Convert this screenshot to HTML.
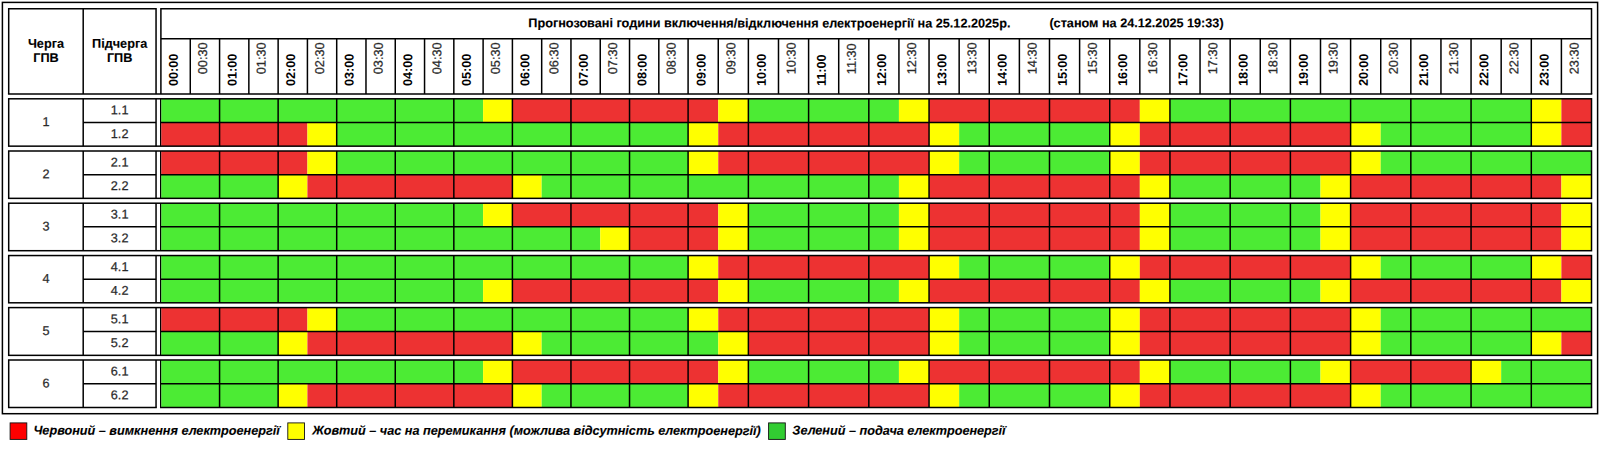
<!DOCTYPE html>
<html lang="uk"><head><meta charset="utf-8"><title>Графік погодинних відключень</title>
<style>html,body{margin:0;padding:0;background:#fff}svg{display:block}text{font-family:"Liberation Sans",sans-serif;font-size:12.7px;fill:#000}.b{font-weight:bold;stroke:#000;stroke-width:.12}.i{font-size:12.67px;font-weight:bold;font-style:italic;stroke:#000;stroke-width:.12}.g{fill:#2a2a2a;stroke:#2a2a2a;stroke-width:.25}.h{fill:#2a2a2a;stroke:#2a2a2a;stroke-width:.25;font-size:12.7px}.t{font-weight:bold;font-size:12.7px}.l{stroke:#000;stroke-width:1.5;fill:none}</style></head><body>
<svg width="1600" height="451" viewBox="0 0 1600 451">
<rect x="0" y="0" width="1600" height="451" fill="#fff"/>
<rect class="l" x="2.4" y="2.4" width="1595.2" height="411.3"/>
<polyline class="l" points="8.7,93.9 8.7,8.7 156.05,8.7 156.05,93.9"/>
<line class="l" x1="83.2" y1="8.7" x2="83.2" y2="93.9"/>
<text class="b" text-anchor="middle" transform="translate(45.95 47.85) rotate(0.04)">Черга</text>
<text class="b" text-anchor="middle" transform="translate(45.95 62.05) rotate(0.04)">ГПВ</text>
<text class="b" text-anchor="middle" transform="translate(119.62 47.85) rotate(0.04)">Підчерга</text>
<text class="b" text-anchor="middle" transform="translate(119.62 62.05) rotate(0.04)">ГПВ</text>
<polyline class="l" points="160.9,93.9 160.9,8.7 1591.51,8.7 1591.51,93.9"/>
<line class="l" x1="160.9" y1="38.7" x2="1591.51" y2="38.7"/>
<line class="l" x1="7.95" y1="93.9" x2="1592.26" y2="93.9"/>
<text class="b" transform="translate(528.30 27.25) rotate(0.04)" style="font-size:12.68px">Прогнозовані години включення/відключення електроенергії на 25.12.2025р.</text>
<text class="b" transform="translate(1049.40 27.25) rotate(0.04)" style="font-size:12.66px">(станом на 24.12.2025 19:33)</text>
<line class="l" x1="190.28" y1="38.7" x2="190.28" y2="93.9"/>
<line class="l" x1="219.57" y1="38.7" x2="219.57" y2="93.9"/>
<line class="l" x1="248.85" y1="38.7" x2="248.85" y2="93.9"/>
<line class="l" x1="278.13" y1="38.7" x2="278.13" y2="93.9"/>
<line class="l" x1="307.42" y1="38.7" x2="307.42" y2="93.9"/>
<line class="l" x1="336.70" y1="38.7" x2="336.70" y2="93.9"/>
<line class="l" x1="365.98" y1="38.7" x2="365.98" y2="93.9"/>
<line class="l" x1="395.26" y1="38.7" x2="395.26" y2="93.9"/>
<line class="l" x1="424.55" y1="38.7" x2="424.55" y2="93.9"/>
<line class="l" x1="453.83" y1="38.7" x2="453.83" y2="93.9"/>
<line class="l" x1="483.11" y1="38.7" x2="483.11" y2="93.9"/>
<line class="l" x1="512.40" y1="38.7" x2="512.40" y2="93.9"/>
<line class="l" x1="541.68" y1="38.7" x2="541.68" y2="93.9"/>
<line class="l" x1="570.96" y1="38.7" x2="570.96" y2="93.9"/>
<line class="l" x1="600.25" y1="38.7" x2="600.25" y2="93.9"/>
<line class="l" x1="629.53" y1="38.7" x2="629.53" y2="93.9"/>
<line class="l" x1="658.81" y1="38.7" x2="658.81" y2="93.9"/>
<line class="l" x1="688.09" y1="38.7" x2="688.09" y2="93.9"/>
<line class="l" x1="718.26" y1="38.7" x2="718.26" y2="93.9"/>
<line class="l" x1="748.37" y1="38.7" x2="748.37" y2="93.9"/>
<line class="l" x1="778.49" y1="38.7" x2="778.49" y2="93.9"/>
<line class="l" x1="808.60" y1="38.7" x2="808.60" y2="93.9"/>
<line class="l" x1="838.71" y1="38.7" x2="838.71" y2="93.9"/>
<line class="l" x1="868.82" y1="38.7" x2="868.82" y2="93.9"/>
<line class="l" x1="898.93" y1="38.7" x2="898.93" y2="93.9"/>
<line class="l" x1="929.05" y1="38.7" x2="929.05" y2="93.9"/>
<line class="l" x1="959.16" y1="38.7" x2="959.16" y2="93.9"/>
<line class="l" x1="989.27" y1="38.7" x2="989.27" y2="93.9"/>
<line class="l" x1="1019.38" y1="38.7" x2="1019.38" y2="93.9"/>
<line class="l" x1="1049.49" y1="38.7" x2="1049.49" y2="93.9"/>
<line class="l" x1="1079.61" y1="38.7" x2="1079.61" y2="93.9"/>
<line class="l" x1="1109.72" y1="38.7" x2="1109.72" y2="93.9"/>
<line class="l" x1="1139.83" y1="38.7" x2="1139.83" y2="93.9"/>
<line class="l" x1="1169.94" y1="38.7" x2="1169.94" y2="93.9"/>
<line class="l" x1="1200.05" y1="38.7" x2="1200.05" y2="93.9"/>
<line class="l" x1="1230.17" y1="38.7" x2="1230.17" y2="93.9"/>
<line class="l" x1="1260.28" y1="38.7" x2="1260.28" y2="93.9"/>
<line class="l" x1="1290.39" y1="38.7" x2="1290.39" y2="93.9"/>
<line class="l" x1="1320.50" y1="38.7" x2="1320.50" y2="93.9"/>
<line class="l" x1="1350.61" y1="38.7" x2="1350.61" y2="93.9"/>
<line class="l" x1="1380.73" y1="38.7" x2="1380.73" y2="93.9"/>
<line class="l" x1="1410.84" y1="38.7" x2="1410.84" y2="93.9"/>
<line class="l" x1="1440.95" y1="38.7" x2="1440.95" y2="93.9"/>
<line class="l" x1="1471.06" y1="38.7" x2="1471.06" y2="93.9"/>
<line class="l" x1="1501.17" y1="38.7" x2="1501.17" y2="93.9"/>
<line class="l" x1="1531.29" y1="38.7" x2="1531.29" y2="93.9"/>
<line class="l" x1="1561.40" y1="38.7" x2="1561.40" y2="93.9"/>
<text class="t" transform="translate(177.84 86.10) rotate(-89.96)">00:00</text>
<text class="h" transform="translate(206.92 74.20) rotate(-89.96)">00:30</text>
<text class="t" transform="translate(236.41 86.10) rotate(-89.96)">01:00</text>
<text class="h" transform="translate(265.49 74.20) rotate(-89.96)">01:30</text>
<text class="t" transform="translate(294.97 86.10) rotate(-89.96)">02:00</text>
<text class="h" transform="translate(324.06 74.20) rotate(-89.96)">02:30</text>
<text class="t" transform="translate(353.54 86.10) rotate(-89.96)">03:00</text>
<text class="h" transform="translate(382.62 74.20) rotate(-89.96)">03:30</text>
<text class="t" transform="translate(412.11 86.10) rotate(-89.96)">04:00</text>
<text class="h" transform="translate(441.19 74.20) rotate(-89.96)">04:30</text>
<text class="t" transform="translate(470.67 86.10) rotate(-89.96)">05:00</text>
<text class="h" transform="translate(499.75 74.20) rotate(-89.96)">05:30</text>
<text class="t" transform="translate(529.24 86.10) rotate(-89.96)">06:00</text>
<text class="h" transform="translate(558.32 74.20) rotate(-89.96)">06:30</text>
<text class="t" transform="translate(587.80 86.10) rotate(-89.96)">07:00</text>
<text class="h" transform="translate(616.89 74.20) rotate(-89.96)">07:30</text>
<text class="t" transform="translate(646.37 86.10) rotate(-89.96)">08:00</text>
<text class="h" transform="translate(675.45 74.20) rotate(-89.96)">08:30</text>
<text class="t" transform="translate(705.38 86.10) rotate(-89.96)">09:00</text>
<text class="h" transform="translate(735.32 74.20) rotate(-89.96)">09:30</text>
<text class="t" transform="translate(765.63 86.10) rotate(-89.96)">10:00</text>
<text class="h" transform="translate(795.54 74.20) rotate(-89.96)">10:30</text>
<text class="t" transform="translate(825.85 86.10) rotate(-89.96)">11:00</text>
<text class="h" transform="translate(855.77 74.20) rotate(-89.96)">11:30</text>
<text class="t" transform="translate(886.08 86.10) rotate(-89.96)">12:00</text>
<text class="h" transform="translate(915.99 74.20) rotate(-89.96)">12:30</text>
<text class="t" transform="translate(946.30 86.10) rotate(-89.96)">13:00</text>
<text class="h" transform="translate(976.21 74.20) rotate(-89.96)">13:30</text>
<text class="t" transform="translate(1006.53 86.10) rotate(-89.96)">14:00</text>
<text class="h" transform="translate(1036.44 74.20) rotate(-89.96)">14:30</text>
<text class="t" transform="translate(1066.75 86.10) rotate(-89.96)">15:00</text>
<text class="h" transform="translate(1096.66 74.20) rotate(-89.96)">15:30</text>
<text class="t" transform="translate(1126.97 86.10) rotate(-89.96)">16:00</text>
<text class="h" transform="translate(1156.89 74.20) rotate(-89.96)">16:30</text>
<text class="t" transform="translate(1187.20 86.10) rotate(-89.96)">17:00</text>
<text class="h" transform="translate(1217.11 74.20) rotate(-89.96)">17:30</text>
<text class="t" transform="translate(1247.42 86.10) rotate(-89.96)">18:00</text>
<text class="h" transform="translate(1277.33 74.20) rotate(-89.96)">18:30</text>
<text class="t" transform="translate(1307.65 86.10) rotate(-89.96)">19:00</text>
<text class="h" transform="translate(1337.56 74.20) rotate(-89.96)">19:30</text>
<text class="t" transform="translate(1367.87 86.10) rotate(-89.96)">20:00</text>
<text class="h" transform="translate(1397.78 74.20) rotate(-89.96)">20:30</text>
<text class="t" transform="translate(1428.09 86.10) rotate(-89.96)">21:00</text>
<text class="h" transform="translate(1458.01 74.20) rotate(-89.96)">21:30</text>
<text class="t" transform="translate(1488.32 86.10) rotate(-89.96)">22:00</text>
<text class="h" transform="translate(1518.23 74.20) rotate(-89.96)">22:30</text>
<text class="t" transform="translate(1548.54 86.10) rotate(-89.96)">23:00</text>
<text class="h" transform="translate(1578.45 74.20) rotate(-89.96)">23:30</text>
<line class="l" x1="160.75" y1="98.80" x2="160.75" y2="146.15"/>
<rect x="161.35" y="98.80" width="321.76" height="23.65" fill="#4ceb34"/>
<rect x="483.11" y="98.80" width="29.28" height="23.65" fill="#ffff00"/>
<rect x="512.40" y="98.80" width="205.87" height="23.65" fill="#ed3232"/>
<rect x="718.26" y="98.80" width="30.11" height="23.65" fill="#ffff00"/>
<rect x="748.37" y="98.80" width="150.56" height="23.65" fill="#4ceb34"/>
<rect x="898.93" y="98.80" width="30.11" height="23.65" fill="#ffff00"/>
<rect x="929.05" y="98.80" width="210.78" height="23.65" fill="#ed3232"/>
<rect x="1139.83" y="98.80" width="30.11" height="23.65" fill="#ffff00"/>
<rect x="1169.94" y="98.80" width="361.34" height="23.65" fill="#4ceb34"/>
<rect x="1531.29" y="98.80" width="30.11" height="23.65" fill="#ffff00"/>
<rect x="1561.40" y="98.80" width="30.11" height="23.65" fill="#ed3232"/>
<rect x="161.35" y="122.45" width="146.07" height="23.70" fill="#ed3232"/>
<rect x="307.42" y="122.45" width="29.28" height="23.70" fill="#ffff00"/>
<rect x="336.70" y="122.45" width="351.40" height="23.70" fill="#4ceb34"/>
<rect x="688.09" y="122.45" width="30.17" height="23.70" fill="#ffff00"/>
<rect x="718.26" y="122.45" width="210.78" height="23.70" fill="#ed3232"/>
<rect x="929.05" y="122.45" width="30.11" height="23.70" fill="#ffff00"/>
<rect x="959.16" y="122.45" width="150.56" height="23.70" fill="#4ceb34"/>
<rect x="1109.72" y="122.45" width="30.11" height="23.70" fill="#ffff00"/>
<rect x="1139.83" y="122.45" width="210.78" height="23.70" fill="#ed3232"/>
<rect x="1350.61" y="122.45" width="30.11" height="23.70" fill="#ffff00"/>
<rect x="1380.73" y="122.45" width="150.56" height="23.70" fill="#4ceb34"/>
<rect x="1531.29" y="122.45" width="30.11" height="23.70" fill="#ffff00"/>
<rect x="1561.40" y="122.45" width="30.11" height="23.70" fill="#ed3232"/>
<rect class="l" x="8.7" y="98.80" width="1582.81" height="47.35"/>
<line class="l" x1="156.05" y1="98.80" x2="156.05" y2="146.15"/>
<line class="l" x1="83.2" y1="98.80" x2="83.2" y2="146.15"/>
<line class="l" x1="83.2" y1="122.45" x2="156.05" y2="122.45"/>
<text class="g" text-anchor="middle" transform="translate(45.95 126.07) rotate(0.04)">1</text>
<text class="g" text-anchor="middle" transform="translate(119.62 114.22) rotate(0.04)">1.1</text>
<text class="g" text-anchor="middle" transform="translate(119.62 137.90) rotate(0.04)">1.2</text>
<line class="l" x1="160.75" y1="122.45" x2="1591.51" y2="122.45"/>
<line class="l" x1="219.57" y1="98.80" x2="219.57" y2="146.15"/>
<line class="l" x1="278.13" y1="98.80" x2="278.13" y2="146.15"/>
<line class="l" x1="336.70" y1="98.80" x2="336.70" y2="146.15"/>
<line class="l" x1="395.26" y1="98.80" x2="395.26" y2="146.15"/>
<line class="l" x1="453.83" y1="98.80" x2="453.83" y2="146.15"/>
<line class="l" x1="512.40" y1="98.80" x2="512.40" y2="146.15"/>
<line class="l" x1="570.96" y1="98.80" x2="570.96" y2="146.15"/>
<line class="l" x1="629.53" y1="98.80" x2="629.53" y2="146.15"/>
<line class="l" x1="688.09" y1="98.80" x2="688.09" y2="146.15"/>
<line class="l" x1="748.37" y1="98.80" x2="748.37" y2="146.15"/>
<line class="l" x1="808.60" y1="98.80" x2="808.60" y2="146.15"/>
<line class="l" x1="868.82" y1="98.80" x2="868.82" y2="146.15"/>
<line class="l" x1="929.05" y1="98.80" x2="929.05" y2="146.15"/>
<line class="l" x1="989.27" y1="98.80" x2="989.27" y2="146.15"/>
<line class="l" x1="1049.49" y1="98.80" x2="1049.49" y2="146.15"/>
<line class="l" x1="1109.72" y1="98.80" x2="1109.72" y2="146.15"/>
<line class="l" x1="1169.94" y1="98.80" x2="1169.94" y2="146.15"/>
<line class="l" x1="1230.17" y1="98.80" x2="1230.17" y2="146.15"/>
<line class="l" x1="1290.39" y1="98.80" x2="1290.39" y2="146.15"/>
<line class="l" x1="1350.61" y1="98.80" x2="1350.61" y2="146.15"/>
<line class="l" x1="1410.84" y1="98.80" x2="1410.84" y2="146.15"/>
<line class="l" x1="1471.06" y1="98.80" x2="1471.06" y2="146.15"/>
<line class="l" x1="1531.29" y1="98.80" x2="1531.29" y2="146.15"/>
<line class="l" x1="160.75" y1="151.00" x2="160.75" y2="198.35"/>
<rect x="161.35" y="151.00" width="146.07" height="23.65" fill="#ed3232"/>
<rect x="307.42" y="151.00" width="29.28" height="23.65" fill="#ffff00"/>
<rect x="336.70" y="151.00" width="351.40" height="23.65" fill="#4ceb34"/>
<rect x="688.09" y="151.00" width="30.17" height="23.65" fill="#ffff00"/>
<rect x="718.26" y="151.00" width="210.78" height="23.65" fill="#ed3232"/>
<rect x="929.05" y="151.00" width="30.11" height="23.65" fill="#ffff00"/>
<rect x="959.16" y="151.00" width="150.56" height="23.65" fill="#4ceb34"/>
<rect x="1109.72" y="151.00" width="30.11" height="23.65" fill="#ffff00"/>
<rect x="1139.83" y="151.00" width="210.78" height="23.65" fill="#ed3232"/>
<rect x="1350.61" y="151.00" width="30.11" height="23.65" fill="#ffff00"/>
<rect x="1380.73" y="151.00" width="210.78" height="23.65" fill="#4ceb34"/>
<rect x="161.35" y="174.65" width="116.78" height="23.70" fill="#4ceb34"/>
<rect x="278.13" y="174.65" width="29.28" height="23.70" fill="#ffff00"/>
<rect x="307.42" y="174.65" width="204.98" height="23.70" fill="#ed3232"/>
<rect x="512.40" y="174.65" width="29.28" height="23.70" fill="#ffff00"/>
<rect x="541.68" y="174.65" width="357.25" height="23.70" fill="#4ceb34"/>
<rect x="898.93" y="174.65" width="30.11" height="23.70" fill="#ffff00"/>
<rect x="929.05" y="174.65" width="210.78" height="23.70" fill="#ed3232"/>
<rect x="1139.83" y="174.65" width="30.11" height="23.70" fill="#ffff00"/>
<rect x="1169.94" y="174.65" width="150.56" height="23.70" fill="#4ceb34"/>
<rect x="1320.50" y="174.65" width="30.11" height="23.70" fill="#ffff00"/>
<rect x="1350.61" y="174.65" width="210.78" height="23.70" fill="#ed3232"/>
<rect x="1561.40" y="174.65" width="30.11" height="23.70" fill="#ffff00"/>
<rect class="l" x="8.7" y="151.00" width="1582.81" height="47.35"/>
<line class="l" x1="156.05" y1="151.00" x2="156.05" y2="198.35"/>
<line class="l" x1="83.2" y1="151.00" x2="83.2" y2="198.35"/>
<line class="l" x1="83.2" y1="174.65" x2="156.05" y2="174.65"/>
<text class="g" text-anchor="middle" transform="translate(45.95 178.28) rotate(0.04)">2</text>
<text class="g" text-anchor="middle" transform="translate(119.62 166.42) rotate(0.04)">2.1</text>
<text class="g" text-anchor="middle" transform="translate(119.62 190.10) rotate(0.04)">2.2</text>
<line class="l" x1="160.75" y1="174.65" x2="1591.51" y2="174.65"/>
<line class="l" x1="219.57" y1="151.00" x2="219.57" y2="198.35"/>
<line class="l" x1="278.13" y1="151.00" x2="278.13" y2="198.35"/>
<line class="l" x1="336.70" y1="151.00" x2="336.70" y2="198.35"/>
<line class="l" x1="395.26" y1="151.00" x2="395.26" y2="198.35"/>
<line class="l" x1="453.83" y1="151.00" x2="453.83" y2="198.35"/>
<line class="l" x1="512.40" y1="151.00" x2="512.40" y2="198.35"/>
<line class="l" x1="570.96" y1="151.00" x2="570.96" y2="198.35"/>
<line class="l" x1="629.53" y1="151.00" x2="629.53" y2="198.35"/>
<line class="l" x1="688.09" y1="151.00" x2="688.09" y2="198.35"/>
<line class="l" x1="748.37" y1="151.00" x2="748.37" y2="198.35"/>
<line class="l" x1="808.60" y1="151.00" x2="808.60" y2="198.35"/>
<line class="l" x1="868.82" y1="151.00" x2="868.82" y2="198.35"/>
<line class="l" x1="929.05" y1="151.00" x2="929.05" y2="198.35"/>
<line class="l" x1="989.27" y1="151.00" x2="989.27" y2="198.35"/>
<line class="l" x1="1049.49" y1="151.00" x2="1049.49" y2="198.35"/>
<line class="l" x1="1109.72" y1="151.00" x2="1109.72" y2="198.35"/>
<line class="l" x1="1169.94" y1="151.00" x2="1169.94" y2="198.35"/>
<line class="l" x1="1230.17" y1="151.00" x2="1230.17" y2="198.35"/>
<line class="l" x1="1290.39" y1="151.00" x2="1290.39" y2="198.35"/>
<line class="l" x1="1350.61" y1="151.00" x2="1350.61" y2="198.35"/>
<line class="l" x1="1410.84" y1="151.00" x2="1410.84" y2="198.35"/>
<line class="l" x1="1471.06" y1="151.00" x2="1471.06" y2="198.35"/>
<line class="l" x1="1531.29" y1="151.00" x2="1531.29" y2="198.35"/>
<line class="l" x1="160.75" y1="203.20" x2="160.75" y2="250.70"/>
<rect x="161.35" y="203.20" width="321.76" height="23.65" fill="#4ceb34"/>
<rect x="483.11" y="203.20" width="29.28" height="23.65" fill="#ffff00"/>
<rect x="512.40" y="203.20" width="205.87" height="23.65" fill="#ed3232"/>
<rect x="718.26" y="203.20" width="30.11" height="23.65" fill="#ffff00"/>
<rect x="748.37" y="203.20" width="150.56" height="23.65" fill="#4ceb34"/>
<rect x="898.93" y="203.20" width="30.11" height="23.65" fill="#ffff00"/>
<rect x="929.05" y="203.20" width="210.78" height="23.65" fill="#ed3232"/>
<rect x="1139.83" y="203.20" width="30.11" height="23.65" fill="#ffff00"/>
<rect x="1169.94" y="203.20" width="150.56" height="23.65" fill="#4ceb34"/>
<rect x="1320.50" y="203.20" width="30.11" height="23.65" fill="#ffff00"/>
<rect x="1350.61" y="203.20" width="210.78" height="23.65" fill="#ed3232"/>
<rect x="1561.40" y="203.20" width="30.11" height="23.65" fill="#ffff00"/>
<rect x="161.35" y="226.85" width="438.89" height="23.85" fill="#4ceb34"/>
<rect x="600.25" y="226.85" width="29.28" height="23.85" fill="#ffff00"/>
<rect x="629.53" y="226.85" width="88.73" height="23.85" fill="#ed3232"/>
<rect x="718.26" y="226.85" width="30.11" height="23.85" fill="#ffff00"/>
<rect x="748.37" y="226.85" width="150.56" height="23.85" fill="#4ceb34"/>
<rect x="898.93" y="226.85" width="30.11" height="23.85" fill="#ffff00"/>
<rect x="929.05" y="226.85" width="210.78" height="23.85" fill="#ed3232"/>
<rect x="1139.83" y="226.85" width="30.11" height="23.85" fill="#ffff00"/>
<rect x="1169.94" y="226.85" width="150.56" height="23.85" fill="#4ceb34"/>
<rect x="1320.50" y="226.85" width="30.11" height="23.85" fill="#ffff00"/>
<rect x="1350.61" y="226.85" width="210.78" height="23.85" fill="#ed3232"/>
<rect x="1561.40" y="226.85" width="30.11" height="23.85" fill="#ffff00"/>
<rect class="l" x="8.7" y="203.20" width="1582.81" height="47.50"/>
<line class="l" x1="156.05" y1="203.20" x2="156.05" y2="250.70"/>
<line class="l" x1="83.2" y1="203.20" x2="83.2" y2="250.70"/>
<line class="l" x1="83.2" y1="226.85" x2="156.05" y2="226.85"/>
<text class="g" text-anchor="middle" transform="translate(45.95 230.55) rotate(0.04)">3</text>
<text class="g" text-anchor="middle" transform="translate(119.62 218.62) rotate(0.04)">3.1</text>
<text class="g" text-anchor="middle" transform="translate(119.62 242.37) rotate(0.04)">3.2</text>
<line class="l" x1="160.75" y1="226.85" x2="1591.51" y2="226.85"/>
<line class="l" x1="219.57" y1="203.20" x2="219.57" y2="250.70"/>
<line class="l" x1="278.13" y1="203.20" x2="278.13" y2="250.70"/>
<line class="l" x1="336.70" y1="203.20" x2="336.70" y2="250.70"/>
<line class="l" x1="395.26" y1="203.20" x2="395.26" y2="250.70"/>
<line class="l" x1="453.83" y1="203.20" x2="453.83" y2="250.70"/>
<line class="l" x1="512.40" y1="203.20" x2="512.40" y2="250.70"/>
<line class="l" x1="570.96" y1="203.20" x2="570.96" y2="250.70"/>
<line class="l" x1="629.53" y1="203.20" x2="629.53" y2="250.70"/>
<line class="l" x1="688.09" y1="203.20" x2="688.09" y2="250.70"/>
<line class="l" x1="748.37" y1="203.20" x2="748.37" y2="250.70"/>
<line class="l" x1="808.60" y1="203.20" x2="808.60" y2="250.70"/>
<line class="l" x1="868.82" y1="203.20" x2="868.82" y2="250.70"/>
<line class="l" x1="929.05" y1="203.20" x2="929.05" y2="250.70"/>
<line class="l" x1="989.27" y1="203.20" x2="989.27" y2="250.70"/>
<line class="l" x1="1049.49" y1="203.20" x2="1049.49" y2="250.70"/>
<line class="l" x1="1109.72" y1="203.20" x2="1109.72" y2="250.70"/>
<line class="l" x1="1169.94" y1="203.20" x2="1169.94" y2="250.70"/>
<line class="l" x1="1230.17" y1="203.20" x2="1230.17" y2="250.70"/>
<line class="l" x1="1290.39" y1="203.20" x2="1290.39" y2="250.70"/>
<line class="l" x1="1350.61" y1="203.20" x2="1350.61" y2="250.70"/>
<line class="l" x1="1410.84" y1="203.20" x2="1410.84" y2="250.70"/>
<line class="l" x1="1471.06" y1="203.20" x2="1471.06" y2="250.70"/>
<line class="l" x1="1531.29" y1="203.20" x2="1531.29" y2="250.70"/>
<line class="l" x1="160.75" y1="255.55" x2="160.75" y2="302.80"/>
<rect x="161.35" y="255.55" width="526.74" height="23.80" fill="#4ceb34"/>
<rect x="688.09" y="255.55" width="30.17" height="23.80" fill="#ffff00"/>
<rect x="718.26" y="255.55" width="210.78" height="23.80" fill="#ed3232"/>
<rect x="929.05" y="255.55" width="30.11" height="23.80" fill="#ffff00"/>
<rect x="959.16" y="255.55" width="150.56" height="23.80" fill="#4ceb34"/>
<rect x="1109.72" y="255.55" width="30.11" height="23.80" fill="#ffff00"/>
<rect x="1139.83" y="255.55" width="210.78" height="23.80" fill="#ed3232"/>
<rect x="1350.61" y="255.55" width="30.11" height="23.80" fill="#ffff00"/>
<rect x="1380.73" y="255.55" width="150.56" height="23.80" fill="#4ceb34"/>
<rect x="1531.29" y="255.55" width="30.11" height="23.80" fill="#ffff00"/>
<rect x="1561.40" y="255.55" width="30.11" height="23.80" fill="#ed3232"/>
<rect x="161.35" y="279.35" width="321.76" height="23.45" fill="#4ceb34"/>
<rect x="483.11" y="279.35" width="29.28" height="23.45" fill="#ffff00"/>
<rect x="512.40" y="279.35" width="205.87" height="23.45" fill="#ed3232"/>
<rect x="718.26" y="279.35" width="30.11" height="23.45" fill="#ffff00"/>
<rect x="748.37" y="279.35" width="150.56" height="23.45" fill="#4ceb34"/>
<rect x="898.93" y="279.35" width="30.11" height="23.45" fill="#ffff00"/>
<rect x="929.05" y="279.35" width="210.78" height="23.45" fill="#ed3232"/>
<rect x="1139.83" y="279.35" width="30.11" height="23.45" fill="#ffff00"/>
<rect x="1169.94" y="279.35" width="150.56" height="23.45" fill="#4ceb34"/>
<rect x="1320.50" y="279.35" width="30.11" height="23.45" fill="#ffff00"/>
<rect x="1350.61" y="279.35" width="210.78" height="23.45" fill="#ed3232"/>
<rect x="1561.40" y="279.35" width="30.11" height="23.45" fill="#ffff00"/>
<rect class="l" x="8.7" y="255.55" width="1582.81" height="47.25"/>
<line class="l" x1="156.05" y1="255.55" x2="156.05" y2="302.80"/>
<line class="l" x1="83.2" y1="255.55" x2="83.2" y2="302.80"/>
<line class="l" x1="83.2" y1="279.35" x2="156.05" y2="279.35"/>
<text class="g" text-anchor="middle" transform="translate(45.95 282.78) rotate(0.04)">4</text>
<text class="g" text-anchor="middle" transform="translate(119.62 271.05) rotate(0.04)">4.1</text>
<text class="g" text-anchor="middle" transform="translate(119.62 294.68) rotate(0.04)">4.2</text>
<line class="l" x1="160.75" y1="279.35" x2="1591.51" y2="279.35"/>
<line class="l" x1="219.57" y1="255.55" x2="219.57" y2="302.80"/>
<line class="l" x1="278.13" y1="255.55" x2="278.13" y2="302.80"/>
<line class="l" x1="336.70" y1="255.55" x2="336.70" y2="302.80"/>
<line class="l" x1="395.26" y1="255.55" x2="395.26" y2="302.80"/>
<line class="l" x1="453.83" y1="255.55" x2="453.83" y2="302.80"/>
<line class="l" x1="512.40" y1="255.55" x2="512.40" y2="302.80"/>
<line class="l" x1="570.96" y1="255.55" x2="570.96" y2="302.80"/>
<line class="l" x1="629.53" y1="255.55" x2="629.53" y2="302.80"/>
<line class="l" x1="688.09" y1="255.55" x2="688.09" y2="302.80"/>
<line class="l" x1="748.37" y1="255.55" x2="748.37" y2="302.80"/>
<line class="l" x1="808.60" y1="255.55" x2="808.60" y2="302.80"/>
<line class="l" x1="868.82" y1="255.55" x2="868.82" y2="302.80"/>
<line class="l" x1="929.05" y1="255.55" x2="929.05" y2="302.80"/>
<line class="l" x1="989.27" y1="255.55" x2="989.27" y2="302.80"/>
<line class="l" x1="1049.49" y1="255.55" x2="1049.49" y2="302.80"/>
<line class="l" x1="1109.72" y1="255.55" x2="1109.72" y2="302.80"/>
<line class="l" x1="1169.94" y1="255.55" x2="1169.94" y2="302.80"/>
<line class="l" x1="1230.17" y1="255.55" x2="1230.17" y2="302.80"/>
<line class="l" x1="1290.39" y1="255.55" x2="1290.39" y2="302.80"/>
<line class="l" x1="1350.61" y1="255.55" x2="1350.61" y2="302.80"/>
<line class="l" x1="1410.84" y1="255.55" x2="1410.84" y2="302.80"/>
<line class="l" x1="1471.06" y1="255.55" x2="1471.06" y2="302.80"/>
<line class="l" x1="1531.29" y1="255.55" x2="1531.29" y2="302.80"/>
<line class="l" x1="160.75" y1="307.60" x2="160.75" y2="355.35"/>
<rect x="161.35" y="307.60" width="146.07" height="23.95" fill="#ed3232"/>
<rect x="307.42" y="307.60" width="29.28" height="23.95" fill="#ffff00"/>
<rect x="336.70" y="307.60" width="351.40" height="23.95" fill="#4ceb34"/>
<rect x="688.09" y="307.60" width="30.17" height="23.95" fill="#ffff00"/>
<rect x="718.26" y="307.60" width="210.78" height="23.95" fill="#ed3232"/>
<rect x="929.05" y="307.60" width="30.11" height="23.95" fill="#ffff00"/>
<rect x="959.16" y="307.60" width="150.56" height="23.95" fill="#4ceb34"/>
<rect x="1109.72" y="307.60" width="30.11" height="23.95" fill="#ffff00"/>
<rect x="1139.83" y="307.60" width="210.78" height="23.95" fill="#ed3232"/>
<rect x="1350.61" y="307.60" width="30.11" height="23.95" fill="#ffff00"/>
<rect x="1380.73" y="307.60" width="210.78" height="23.95" fill="#4ceb34"/>
<rect x="161.35" y="331.55" width="116.78" height="23.80" fill="#4ceb34"/>
<rect x="278.13" y="331.55" width="29.28" height="23.80" fill="#ffff00"/>
<rect x="307.42" y="331.55" width="204.98" height="23.80" fill="#ed3232"/>
<rect x="512.40" y="331.55" width="29.28" height="23.80" fill="#ffff00"/>
<rect x="541.68" y="331.55" width="176.58" height="23.80" fill="#4ceb34"/>
<rect x="718.26" y="331.55" width="30.11" height="23.80" fill="#ffff00"/>
<rect x="748.37" y="331.55" width="180.67" height="23.80" fill="#ed3232"/>
<rect x="929.05" y="331.55" width="30.11" height="23.80" fill="#ffff00"/>
<rect x="959.16" y="331.55" width="150.56" height="23.80" fill="#4ceb34"/>
<rect x="1109.72" y="331.55" width="30.11" height="23.80" fill="#ffff00"/>
<rect x="1139.83" y="331.55" width="210.78" height="23.80" fill="#ed3232"/>
<rect x="1350.61" y="331.55" width="30.11" height="23.80" fill="#ffff00"/>
<rect x="1380.73" y="331.55" width="150.56" height="23.80" fill="#4ceb34"/>
<rect x="1531.29" y="331.55" width="30.11" height="23.80" fill="#ffff00"/>
<rect x="1561.40" y="331.55" width="30.11" height="23.80" fill="#ed3232"/>
<rect class="l" x="8.7" y="307.60" width="1582.81" height="47.75"/>
<line class="l" x1="156.05" y1="307.60" x2="156.05" y2="355.35"/>
<line class="l" x1="83.2" y1="307.60" x2="83.2" y2="355.35"/>
<line class="l" x1="83.2" y1="331.55" x2="156.05" y2="331.55"/>
<text class="g" text-anchor="middle" transform="translate(45.95 335.08) rotate(0.04)">5</text>
<text class="g" text-anchor="middle" transform="translate(119.62 323.18) rotate(0.04)">5.1</text>
<text class="g" text-anchor="middle" transform="translate(119.62 347.05) rotate(0.04)">5.2</text>
<line class="l" x1="160.75" y1="331.55" x2="1591.51" y2="331.55"/>
<line class="l" x1="219.57" y1="307.60" x2="219.57" y2="355.35"/>
<line class="l" x1="278.13" y1="307.60" x2="278.13" y2="355.35"/>
<line class="l" x1="336.70" y1="307.60" x2="336.70" y2="355.35"/>
<line class="l" x1="395.26" y1="307.60" x2="395.26" y2="355.35"/>
<line class="l" x1="453.83" y1="307.60" x2="453.83" y2="355.35"/>
<line class="l" x1="512.40" y1="307.60" x2="512.40" y2="355.35"/>
<line class="l" x1="570.96" y1="307.60" x2="570.96" y2="355.35"/>
<line class="l" x1="629.53" y1="307.60" x2="629.53" y2="355.35"/>
<line class="l" x1="688.09" y1="307.60" x2="688.09" y2="355.35"/>
<line class="l" x1="748.37" y1="307.60" x2="748.37" y2="355.35"/>
<line class="l" x1="808.60" y1="307.60" x2="808.60" y2="355.35"/>
<line class="l" x1="868.82" y1="307.60" x2="868.82" y2="355.35"/>
<line class="l" x1="929.05" y1="307.60" x2="929.05" y2="355.35"/>
<line class="l" x1="989.27" y1="307.60" x2="989.27" y2="355.35"/>
<line class="l" x1="1049.49" y1="307.60" x2="1049.49" y2="355.35"/>
<line class="l" x1="1109.72" y1="307.60" x2="1109.72" y2="355.35"/>
<line class="l" x1="1169.94" y1="307.60" x2="1169.94" y2="355.35"/>
<line class="l" x1="1230.17" y1="307.60" x2="1230.17" y2="355.35"/>
<line class="l" x1="1290.39" y1="307.60" x2="1290.39" y2="355.35"/>
<line class="l" x1="1350.61" y1="307.60" x2="1350.61" y2="355.35"/>
<line class="l" x1="1410.84" y1="307.60" x2="1410.84" y2="355.35"/>
<line class="l" x1="1471.06" y1="307.60" x2="1471.06" y2="355.35"/>
<line class="l" x1="1531.29" y1="307.60" x2="1531.29" y2="355.35"/>
<line class="l" x1="160.75" y1="360.10" x2="160.75" y2="407.55"/>
<rect x="161.35" y="360.10" width="321.76" height="23.65" fill="#4ceb34"/>
<rect x="483.11" y="360.10" width="29.28" height="23.65" fill="#ffff00"/>
<rect x="512.40" y="360.10" width="205.87" height="23.65" fill="#ed3232"/>
<rect x="718.26" y="360.10" width="30.11" height="23.65" fill="#ffff00"/>
<rect x="748.37" y="360.10" width="150.56" height="23.65" fill="#4ceb34"/>
<rect x="898.93" y="360.10" width="30.11" height="23.65" fill="#ffff00"/>
<rect x="929.05" y="360.10" width="210.78" height="23.65" fill="#ed3232"/>
<rect x="1139.83" y="360.10" width="30.11" height="23.65" fill="#ffff00"/>
<rect x="1169.94" y="360.10" width="150.56" height="23.65" fill="#4ceb34"/>
<rect x="1320.50" y="360.10" width="30.11" height="23.65" fill="#ffff00"/>
<rect x="1350.61" y="360.10" width="120.45" height="23.65" fill="#ed3232"/>
<rect x="1471.06" y="360.10" width="30.11" height="23.65" fill="#ffff00"/>
<rect x="1501.17" y="360.10" width="90.34" height="23.65" fill="#4ceb34"/>
<rect x="161.35" y="383.75" width="116.78" height="23.80" fill="#4ceb34"/>
<rect x="278.13" y="383.75" width="29.28" height="23.80" fill="#ffff00"/>
<rect x="307.42" y="383.75" width="204.98" height="23.80" fill="#ed3232"/>
<rect x="512.40" y="383.75" width="29.28" height="23.80" fill="#ffff00"/>
<rect x="541.68" y="383.75" width="146.41" height="23.80" fill="#4ceb34"/>
<rect x="688.09" y="383.75" width="30.17" height="23.80" fill="#ffff00"/>
<rect x="718.26" y="383.75" width="210.78" height="23.80" fill="#ed3232"/>
<rect x="929.05" y="383.75" width="30.11" height="23.80" fill="#ffff00"/>
<rect x="959.16" y="383.75" width="150.56" height="23.80" fill="#4ceb34"/>
<rect x="1109.72" y="383.75" width="30.11" height="23.80" fill="#ffff00"/>
<rect x="1139.83" y="383.75" width="210.78" height="23.80" fill="#ed3232"/>
<rect x="1350.61" y="383.75" width="30.11" height="23.80" fill="#ffff00"/>
<rect x="1380.73" y="383.75" width="210.78" height="23.80" fill="#4ceb34"/>
<polyline class="l" points="8.7,407.55 8.7,360.10 1591.51,360.10 1591.51,407.55"/>
<line class="l" x1="7.95" y1="407.55" x2="156.8" y2="407.55"/>
<line class="l" x1="160" y1="407.55" x2="1592.26" y2="407.55"/>
<line class="l" x1="156.05" y1="360.10" x2="156.05" y2="407.55"/>
<line class="l" x1="83.2" y1="360.10" x2="83.2" y2="407.55"/>
<line class="l" x1="83.2" y1="383.75" x2="156.05" y2="383.75"/>
<text class="g" text-anchor="middle" transform="translate(45.95 387.43) rotate(0.04)">6</text>
<text class="g" text-anchor="middle" transform="translate(119.62 375.53) rotate(0.04)">6.1</text>
<text class="g" text-anchor="middle" transform="translate(119.62 399.25) rotate(0.04)">6.2</text>
<line class="l" x1="160.75" y1="383.75" x2="1591.51" y2="383.75"/>
<line class="l" x1="219.57" y1="360.10" x2="219.57" y2="407.55"/>
<line class="l" x1="278.13" y1="360.10" x2="278.13" y2="407.55"/>
<line class="l" x1="336.70" y1="360.10" x2="336.70" y2="407.55"/>
<line class="l" x1="395.26" y1="360.10" x2="395.26" y2="407.55"/>
<line class="l" x1="453.83" y1="360.10" x2="453.83" y2="407.55"/>
<line class="l" x1="512.40" y1="360.10" x2="512.40" y2="407.55"/>
<line class="l" x1="570.96" y1="360.10" x2="570.96" y2="407.55"/>
<line class="l" x1="629.53" y1="360.10" x2="629.53" y2="407.55"/>
<line class="l" x1="688.09" y1="360.10" x2="688.09" y2="407.55"/>
<line class="l" x1="748.37" y1="360.10" x2="748.37" y2="407.55"/>
<line class="l" x1="808.60" y1="360.10" x2="808.60" y2="407.55"/>
<line class="l" x1="868.82" y1="360.10" x2="868.82" y2="407.55"/>
<line class="l" x1="929.05" y1="360.10" x2="929.05" y2="407.55"/>
<line class="l" x1="989.27" y1="360.10" x2="989.27" y2="407.55"/>
<line class="l" x1="1049.49" y1="360.10" x2="1049.49" y2="407.55"/>
<line class="l" x1="1109.72" y1="360.10" x2="1109.72" y2="407.55"/>
<line class="l" x1="1169.94" y1="360.10" x2="1169.94" y2="407.55"/>
<line class="l" x1="1230.17" y1="360.10" x2="1230.17" y2="407.55"/>
<line class="l" x1="1290.39" y1="360.10" x2="1290.39" y2="407.55"/>
<line class="l" x1="1350.61" y1="360.10" x2="1350.61" y2="407.55"/>
<line class="l" x1="1410.84" y1="360.10" x2="1410.84" y2="407.55"/>
<line class="l" x1="1471.06" y1="360.10" x2="1471.06" y2="407.55"/>
<line class="l" x1="1531.29" y1="360.10" x2="1531.29" y2="407.55"/>
<rect x="10.1" y="422.9" width="16.7" height="16.5" fill="#ff0000" stroke="#111" stroke-width="0.9"/>
<text class="i" transform="translate(33.40 434.60) rotate(0.04)">Червоний – вимкнення електроенергії</text>
<rect x="287.8" y="422.9" width="16.7" height="16.5" fill="#ffff00" stroke="#111" stroke-width="0.9"/>
<text class="i" transform="translate(312.20 434.60) rotate(0.04)">Жовтий – час на перемикання (можлива відсутність електроенергії)</text>
<rect x="768.6" y="422.9" width="16.7" height="16.5" fill="#32cd32" stroke="#111" stroke-width="0.9"/>
<text class="i" transform="translate(792.30 434.60) rotate(0.04)">Зелений – подача електроенергії</text>
</svg></body></html>
